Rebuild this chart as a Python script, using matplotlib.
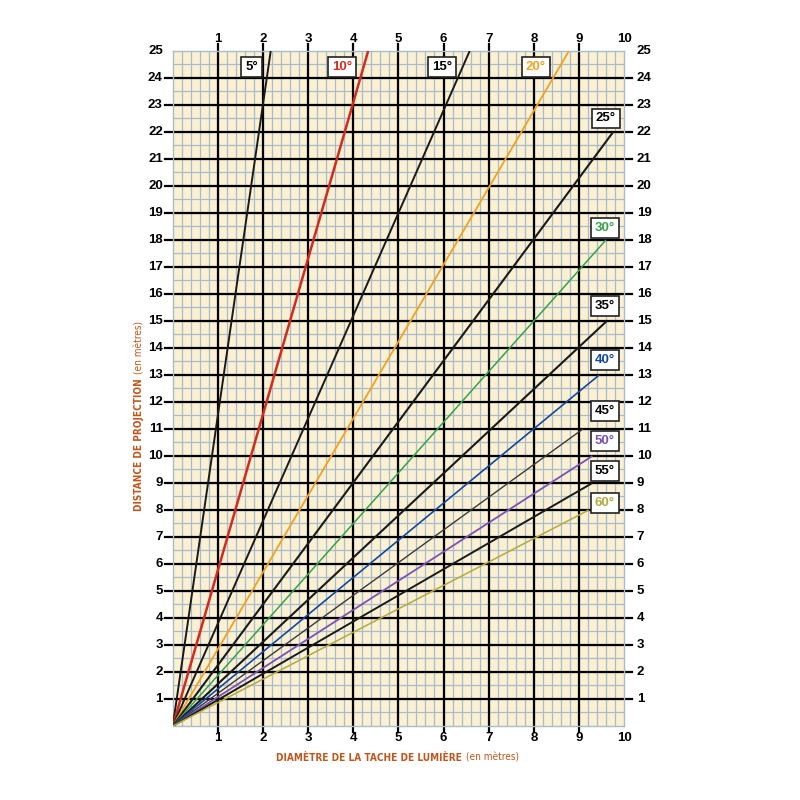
import numpy as np
import matplotlib
matplotlib.use('Agg')
import matplotlib.pyplot as plt

# beam angles and where each line stops (diameter, distance)
angles = [5, 10, 15, 20, 25, 30, 35, 40, 45, 50, 55, 60]
end_diam = [2.17, 4.33, 6.58, 8.78, 9.76, 9.6, 9.62, 9.45, 9.09, 9.3, 9.3, 9.22]
end_dist = [25, 25, 25, 25, 22, 18, 15, 13, 11, 10, 9, 8]
line_colors = ['#1a1a1a', '#d42a1e', '#1a1a1a', '#f0a21e', '#1a1a1a', '#35a24a',
               '#1a1a1a', '#1448a0', '#3a3a3a', '#7a52b4', '#1a1a1a', '#b5a93c']
line_widths = [1.4, 1.8, 1.4, 1.3, 1.5, 1.1, 1.5, 1.2, 1.0, 1.3, 1.4, 1.1]

# where the angle tags sit
tag_x = [1.75, 3.75, 5.96, 8.05, 9.6, 9.58, 9.58, 9.58, 9.58, 9.58, 9.58, 9.58]
tag_y = [24.4, 24.4, 24.4, 24.4, 22.5, 18.45, 15.55, 13.55, 11.67, 10.56, 9.44, 8.26]

x_ticks = list(range(1, 11))
y_ticks = list(range(1, 26))

fig = plt.figure(figsize=(8, 8), dpi=100)
fig.patch.set_facecolor('white')
ax = fig.add_axes([0.216, 0.0925, 0.564, 0.8438])
ax.set_xlim(0, 10)
ax.set_ylim(0, 25)
ax.set_facecolor('#fbf0d2')

grid_col = '#a9bccb'
for xv in np.arange(0.2, 10, 0.2):
    ax.axvline(xv, color=grid_col, lw=0.9, zorder=1)
for yv in np.arange(0.5, 25, 0.5):
    ax.axhline(yv, color=grid_col, lw=0.9, zorder=1)
for s in ax.spines.values():
    s.set_color(grid_col)
    s.set_linewidth(1.0)
ax.set_xticks([])
ax.set_yticks([])

# heavy lines, running past the frame towards the labels
for yv in y_ticks[:-1]:
    ax.plot([-0.18, 10.18], [yv, yv], color='black', lw=1.6, clip_on=False, zorder=2)
for xv in x_ticks[:-1]:
    ax.plot([xv, xv], [-0.22, 25.25], color='black', lw=1.6, clip_on=False, zorder=2)

tf = dict(fontsize=9.5, fontweight='bold', family='Liberation Sans')
for yv in y_ticks:
    ax.text(-0.22, yv, str(yv), ha='right', va='center', clip_on=False, **tf)
    ax.text(10.28, yv, str(yv), ha='left', va='center', clip_on=False, **tf)
for xv in x_ticks:
    ax.text(xv, 25.45, str(xv), ha='center', va='center', clip_on=False, **tf)
    ax.text(xv, -0.45, str(xv), ha='center', va='center', clip_on=False, **tf)

for i, a in enumerate(angles):
    ax.plot([0, end_diam[i]], [0, end_dist[i]], color=line_colors[i],
            lw=line_widths[i], zorder=3, solid_capstyle='butt')
    tcol = line_colors[i] if line_colors[i] not in ('#1a1a1a', '#3a3a3a') else 'black'
    ax.text(tag_x[i], tag_y[i], '%d°' % a, ha='center', va='center', color=tcol,
            fontsize=9.5, fontweight='bold', family='Liberation Sans', zorder=5,
            bbox=dict(boxstyle='square,pad=0.3', fc='white', ec='#222222', lw=1.2))

lab_col = '#c2561a'
lf = dict(color=lab_col, fontsize=7.2, family='DejaVu Sans', fontstretch='condensed')
fig.text(462 / 800, 1 - 758 / 800, 'DIAMÈTRE DE LA TACHE DE LUMIÈRE', ha='right',
         va='center', fontweight='bold', **lf)
fig.text(466 / 800, 1 - 758 / 800, '(en mètres)', ha='left', va='center', **lf)
fig.text(139 / 800, 1 - 378 / 800, 'DISTANCE DE PROJECTION', ha='center', va='top',
         rotation=90, fontweight='bold', **lf)
fig.text(139 / 800, 1 - 374 / 800, '(en mètres)', ha='center', va='bottom',
         rotation=90, **lf)

plt.savefig('out.png', dpi=100, facecolor='white')
plt.close()
